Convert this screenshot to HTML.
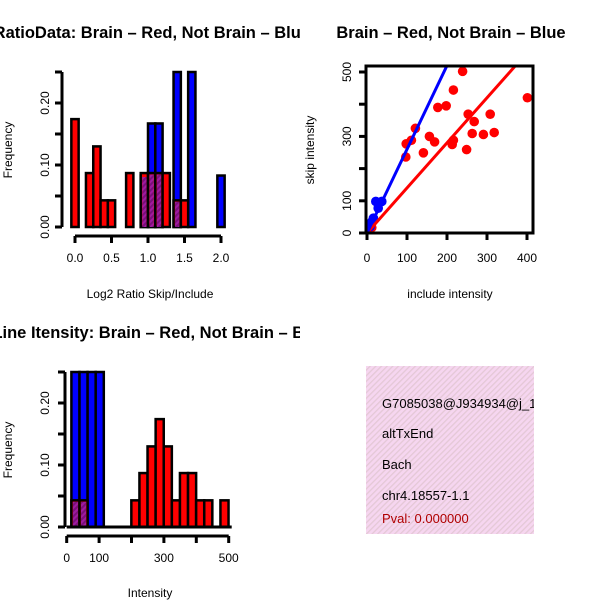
<!DOCTYPE html>
<html><head><meta charset="utf-8"><style>
body{margin:0;background:#fff}
svg{display:block;font-family:"Liberation Sans",Arial,sans-serif}
</style></head><body>
<svg id="c" width="600" height="600" viewBox="0 0 600 600">
<defs>
<pattern id="hatch" width="4" height="4" patternUnits="userSpaceOnUse" patternTransform="rotate(45)">
<rect width="4" height="4" fill="#a01aa0"/><rect width="2" height="4" fill="#7a107a"/>
</pattern>
<pattern id="pink" width="4" height="4" patternUnits="userSpaceOnUse" patternTransform="rotate(45)">
<rect width="4" height="4" fill="#f6d6f0"/><rect width="1.3" height="4" fill="#e4c8d6"/>
</pattern>
<clipPath id="cl"><rect x="0" y="0" width="300" height="600"/></clipPath>
<clipPath id="h2clip"><rect x="60" y="370" width="180" height="160"/></clipPath>
<clipPath id="sclip"><rect x="366" y="66" width="168" height="168"/></clipPath>
<clipPath id="iclip"><rect x="366" y="366" width="168" height="168"/></clipPath>
</defs>
</svg>
<script>
// Histogram 1: Log2 ratio
const h1RedCenters=[0.0,0.2,0.3,0.4,0.5,0.75,0.95,1.05,1.15,1.25,1.4,1.5];
const h1RedFreq=[0.174,0.087,0.13,0.043,0.043,0.087,0.087,0.087,0.087,0.087,0.043,0.043];
const h1BlueCenters=[0.95,1.05,1.15,1.4,1.6,2.0];
const h1BlueFreq=[0.083,0.167,0.167,0.25,0.25,0.083];
const h1XTicks=[0.0,0.5,1.0,1.5,2.0];
const h1YTicks=[0,0.05,0.10,0.15,0.20,0.25];
const h1YLabels=["0.00","","0.10","","0.20",""];
// Scatter
const redX=[239,216,177,198,401,253,308,268,121,156,169,111,98,263,291,318,216,213,141,249,97,12];
const redY=[502,444,390,395,420,369,369,346,325,300,283,288,277,309,306,312,288,275,249,259,236,17];
const blueX=[22,37,28,16,12,8];
const blueY=[98,98,77,46,35,20];
const redSlope=1.4, blueSlope=2.6;
const scXTicks=[0,100,200,300,400];
const scYTicks=[0,100,200,300,400,500];
const scYLabels=["0","100","","300","","500"];
// Histogram 2: intensity
const h2RedCenters=[27,52,212,237,262,287,312,337,362,387,412,437,487];
const h2RedFreq=[0.043,0.043,0.043,0.087,0.13,0.174,0.13,0.043,0.087,0.087,0.043,0.043,0.043];
const h2BlueCenters=[27,52,77,102];
const h2BlueFreq=[0.25,0.25,0.25,0.25];
const h2XTicks=[0,100,200,300,400,500];
const h2XLabels=["0","100","","300","","500"];

const svg=document.getElementById('c');
const NS='http://www.w3.org/2000/svg';
function mk(tag,attrs,parent){const e=document.createElementNS(NS,tag);for(const k in attrs)e.setAttribute(k,attrs[k]);(parent||svg).appendChild(e);return e;}
function txt(s,x,y,size,opts,parent){const t=mk('text',Object.assign({x:x,y:y,'font-size':size,'text-anchor':'middle'},opts||{}),parent);t.textContent=s;return t;}
const TF=16.5;

// ---------- panel 1 ----------
const p1=mk('g',{'clip-path':'url(#cl)'});


const x1=v=>75+v*73, y1=v=>227-v*620;
const w1=0.1*73;
function bar(g,cx,f,xs,ys,w,fill,name){const r=mk('rect',{x:xs(cx)-w/2,y:ys(f),width:w,height:ys(0)-ys(f),fill:fill,stroke:'#000','stroke-width':2.5},g);return r;}
h1BlueCenters.forEach((c,i)=>bar(p1,c,h1BlueFreq[i],x1,y1,w1,'#0000ff','blue-bar'));
h1RedCenters.forEach((c,i)=>bar(p1,c,h1RedFreq[i],x1,y1,w1,'#ff0000','red-bar'));
h1RedCenters.forEach((c,i)=>{const j=h1BlueCenters.indexOf(c);if(j>=0){const m=Math.min(h1RedFreq[i],h1BlueFreq[j]);const r=mk('rect',{x:x1(c)-w1/2+1.5,y:y1(m)+1.5,width:w1-3,height:y1(0)-y1(m)-1.5,fill:'url(#hatch)'},p1);}});
mk('line',{x1:62,x2:62,y1:y1(0.25),y2:y1(0),stroke:'#000','stroke-width':3},p1);
h1YTicks.forEach((v,i)=>{mk('line',{x1:55,x2:62,y1:y1(v),y2:y1(v),stroke:'#000','stroke-width':3},p1);if(h1YLabels[i])txt(h1YLabels[i],46,y1(v),12,{transform:`rotate(-90 46 ${y1(v)})`,'dominant-baseline':'middle'},p1);});
mk('line',{x1:x1(0),x2:x1(2),y1:236,y2:236,stroke:'#000','stroke-width':3},p1);
h1XTicks.forEach(v=>{mk('line',{x1:x1(v),x2:x1(v),y1:236,y2:243,stroke:'#000','stroke-width':3},p1);txt(v.toFixed(1),x1(v),262,12,{},p1);});
txt('Log2 Ratio Skip/Include',150,298,12,{},p1);
txt('Frequency',12,150,12,{transform:'rotate(-90 12 150)'},p1);
txt('Log2 RatioData: Brain – Red, Not Brain – Blue',310,38,TF,{'text-anchor':'end','font-weight':'bold',},p1);

// ---------- panel 2 scatter ----------
const p2=mk('g',{});


const sx=v=>367+v*0.4, sy=v=>233-v*0.322;
const pg=mk('g',{'clip-path':'url(#sclip)'},p2);
redX.forEach((x,i)=>{const c=mk('circle',{cx:sx(x),cy:sy(redY[i]),r:4.8,fill:'#ff0000'},pg);});
blueX.forEach((x,i)=>{const c=mk('circle',{cx:sx(x),cy:sy(blueY[i]),r:4.8,fill:'#0000ff'},pg);});
const rl=mk('line',{x1:sx(0),y1:sy(0),x2:sx(600),y2:sy(600*redSlope),stroke:'#ff0000','stroke-width':3},pg);

const bl=mk('line',{x1:sx(0),y1:sy(0),x2:sx(600),y2:sy(600*blueSlope),stroke:'#0000ff','stroke-width':3},pg);

mk('rect',{x:366,y:66,width:167,height:167,fill:'none',stroke:'#000','stroke-width':3},p2);
scXTicks.forEach(v=>{mk('line',{x1:sx(v),x2:sx(v),y1:233,y2:240,stroke:'#000','stroke-width':3},p2);txt(String(v),sx(v),262,12,{},p2);});
scYTicks.forEach((v,i)=>{mk('line',{x1:359,x2:366,y1:sy(v),y2:sy(v),stroke:'#000','stroke-width':3},p2);if(scYLabels[i])txt(scYLabels[i],348,sy(v),12,{transform:`rotate(-90 348 ${sy(v)})`,'dominant-baseline':'middle'},p2);});
txt('include intensity',450,298,12,{},p2);
txt('skip intensity',314,150,12,{transform:'rotate(-90 314 150)'},p2);
txt('Brain – Red, Not Brain – Blue',451,38,TF,{'font-weight':'bold',},p2);

// ---------- panel 3 ----------
const p3=mk('g',{'clip-path':'url(#cl)'});


const x3=v=>66.7+v*0.324, y3=v=>527-v*620;
const w3=25*0.324;
const bg3=mk('g',{'clip-path':'url(#h2clip)'},p3);
h2BlueCenters.forEach((c,i)=>bar(bg3,c,h2BlueFreq[i],x3,y3,w3,'#0000ff','blue-bar'));
h2RedCenters.forEach((c,i)=>bar(bg3,c,h2RedFreq[i],x3,y3,w3,'#ff0000','red-bar'));
h2RedCenters.forEach((c,i)=>{const j=h2BlueCenters.indexOf(c);if(j>=0){const m=Math.min(h2RedFreq[i],h2BlueFreq[j]);const r=mk('rect',{x:x3(c)-w3/2+1.5,y:y3(m)+1.5,width:w3-3,height:y3(0)-y3(m)-1.5,fill:'url(#hatch)'},bg3);}});
mk('line',{x1:x3(500)+3,x2:x3(0),y1:527,y2:527,stroke:'#000','stroke-width':3},p3);
mk('line',{x1:65,x2:65,y1:y3(0.25),y2:y3(0),stroke:'#000','stroke-width':3},p3);
h1YTicks.forEach((v,i)=>{mk('line',{x1:58,x2:65,y1:y3(v),y2:y3(v),stroke:'#000','stroke-width':3},p3);if(h1YLabels[i])txt(h1YLabels[i],46,y3(v),12,{transform:`rotate(-90 46 ${y3(v)})`,'dominant-baseline':'middle'},p3);});
mk('line',{x1:x3(0),x2:x3(500),y1:536,y2:536,stroke:'#000','stroke-width':3},p3);
h2XTicks.forEach((v,i)=>{mk('line',{x1:x3(v),x2:x3(v),y1:536,y2:543,stroke:'#000','stroke-width':3},p3);if(h2XLabels[i])txt(h2XLabels[i],x3(v),562,12,{},p3);});
txt('Intensity',150,597,12,{},p3);
txt('Frequency',12,450,12,{transform:'rotate(-90 12 450)'},p3);
txt('Exon Line Itensity: Brain – Red, Not Brain – Blue',328,338,TF,{'text-anchor':'end','font-weight':'bold',},p3);

// ---------- info box ----------
const p4=mk('g',{});


const ig=mk('g',{'clip-path':'url(#iclip)'},p4);
mk('rect',{x:366,y:366,width:168,height:168,fill:'url(#pink)'},ig);
[['G7085038@J934934@j_12',408,'#000'],['altTxEnd',438,'#000'],['Bach',469,'#000'],['chr4.18557-1.1',500,'#000'],['Pval: 0.000000',523,'#b00000']].forEach(a=>{const t=txt(a[0],382,a[1],13,{'text-anchor':'start',fill:a[2]},ig);});
</script>
</body></html>
